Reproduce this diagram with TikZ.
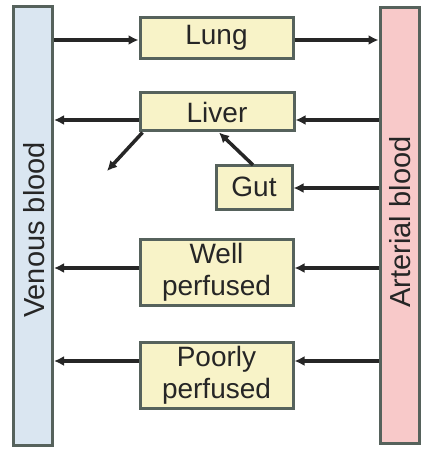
\documentclass[tikz,border=0pt]{standalone}
\usepackage{fontspec}
\setmainfont{Liberation Sans}
\usetikzlibrary{arrows.meta,calc}
\definecolor{venfill}{HTML}{DAE6F1}
\definecolor{artfill}{HTML}{F8C9C9}
\definecolor{boxfill}{HTML}{F8F3C8}
\definecolor{edge}{HTML}{56625C}
\definecolor{ink}{HTML}{262626}
\tikzset{
  bar/.style={draw=edge, line width=3pt, inner sep=0pt, minimum width=39pt, text=ink,
    font=\fontsize{29}{32}\selectfont},
  organ/.style={draw=edge, fill=boxfill, line width=3pt, inner sep=0pt, align=center, text=ink,
    font=\fontsize{28}{32}\selectfont},
  flow/.style={draw=ink, line width=3.5pt, -{Latex[length=10pt,width=10pt]}}
}
\begin{document}
\begin{tikzpicture}[x=1pt,y=-1pt]
\useasboundingbox (0,0) rectangle (421,449);
\node[bar, fill=venfill, minimum height=438pt] (venous) at (33,226) {};
\node[rotate=90, text=ink, font=\fontsize{29}{32}\selectfont] (vlab) at (34,230) {Venous blood};
\node[bar, fill=artfill, minimum height=435pt] (arterial) at (399.5,225.5) {};
\node[rotate=90, text=ink, font=\fontsize{29}{32}\selectfont] (alab) at (400,222) {Arterial blood};
\node[organ, minimum width=153pt, minimum height=41pt] (lung) at (216.5,38) {Lung};
\node[organ, minimum width=154pt, minimum height=38pt] (liver) at (217,112) {Liver};
\node[organ, minimum width=76pt, minimum height=44pt] (gut) at (254,187) {Gut};
\node[organ, minimum width=153pt, minimum height=66pt] (well) at (216.5,272) {Well\\perfused};
\node[organ, minimum width=153pt, minimum height=66pt] (poor) at (216.5,375) {Poorly\\perfused};
% lung
\coordinate (lw) at ([yshift=-2pt]lung.west);
\coordinate (le) at ([yshift=-2pt]lung.east);
\draw[flow] (venous.east |- lw) -- (lw);
\draw[flow] (le) -- (arterial.west |- le);
% liver
\coordinate (liw) at ([yshift=-8pt]liver.west);
\coordinate (lie) at ([yshift=-8pt]liver.east);
\draw[flow] (liw) -- (venous.east |- liw);
\draw[flow] (arterial.west |- lie) -- (lie);
\coordinate (dout) at (107,171);
\draw[flow] (liver.south west) ++(4,0) coordinate (ls) (ls) -- (dout);
\coordinate (gtop) at (253,165);
\draw[flow] (gtop) -- (liver.south -| 219,0);
% gut
\coordinate (ge) at ([yshift=-1pt]gut.east);
\draw[flow] (arterial.west |- ge) -- (ge);
% well
\coordinate (ww) at ([yshift=4pt]well.west);
\coordinate (we) at ([yshift=4pt]well.east);
\draw[flow] (ww) -- (venous.east |- ww);
\draw[flow] (arterial.west |- we) -- (we);
% poorly
\coordinate (pw) at ([yshift=14pt]poor.west);
\coordinate (pe) at ([yshift=14pt]poor.east);
\draw[flow] (pw) -- (venous.east |- pw);
\draw[flow] (arterial.west |- pe) -- (pe);
\end{tikzpicture}
\end{document}
